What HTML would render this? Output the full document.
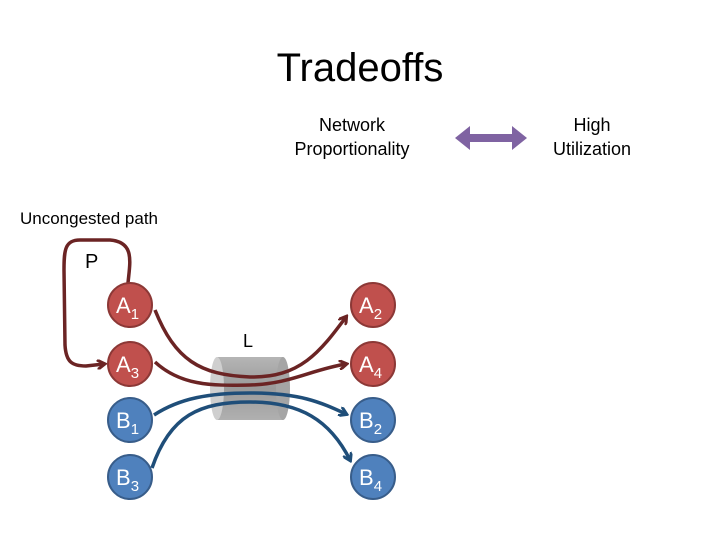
<!DOCTYPE html>
<html><head><meta charset="utf-8"><style>
html,body{margin:0;padding:0;background:#fff;}
svg{display:block}
</style></head><body>
<svg width="720" height="540" viewBox="0 0 720 540" xmlns="http://www.w3.org/2000/svg" font-family="Liberation Sans, sans-serif">
<defs>
<marker id="mr" markerWidth="10" markerHeight="10" refX="7" refY="5" orient="auto" markerUnits="userSpaceOnUse"><path d="M0,0 L8,5 L0,10" fill="none" stroke="#6b2424" stroke-width="3"/></marker>
<marker id="mb" markerWidth="10" markerHeight="10" refX="7" refY="5" orient="auto" markerUnits="userSpaceOnUse"><path d="M0,0 L8,5 L0,10" fill="none" stroke="#1f4e79" stroke-width="3"/></marker>
<linearGradient id="cg" x1="0" y1="0" x2="0" y2="1"><stop offset="0" stop-color="#b5b5b5"/><stop offset="0.5" stop-color="#9a9a9a"/><stop offset="1" stop-color="#b0b0b0"/></linearGradient>
</defs>
<text x="360" y="81" font-size="40" text-anchor="middle" font-family="Liberation Sans Narrow, Liberation Sans, sans-serif">Tradeoffs</text>
<text x="352" y="131" font-size="18" text-anchor="middle">Network</text>
<text x="352" y="155" font-size="18" text-anchor="middle">Proportionality</text>
<text x="592" y="131" font-size="18" text-anchor="middle">High</text>
<text x="592" y="155" font-size="18" text-anchor="middle">Utilization</text>
<path d="M455,138 L470,126 L470,134 L512,134 L512,126 L527,138 L512,150 L512,142 L470,142 L470,150 Z" fill="#7f63a2"/>
<text x="20" y="224" font-size="17">Uncongested path</text>
<text x="85" y="268" font-size="20">P</text>
<!-- cylinder -->
<rect x="217" y="357" width="66" height="63" fill="url(#cg)"/>
<ellipse cx="283" cy="388.5" rx="7" ry="31.5" fill="#a5a5a5"/>
<ellipse cx="217" cy="388.5" rx="7" ry="31.5" fill="#cfcfcf"/>
<text x="243" y="347" font-size="18">L</text>
<!-- paths -->
<g fill="none" stroke-width="3.5">
<path d="M128,283 C130,262 135,242 110,240 L80,240 C65,240 64,250 64,270 L65,345 C66,362 72,366 86,366 L104,364" stroke="#6b2424" marker-end="url(#mr)"/>
<path d="M155,310 C175,360 200,375 250,377 C300,378 320,352 346,317" stroke="#6b2424" marker-end="url(#mr)"/>
<path d="M155,362 C180,385 210,386 250,385 C290,384 310,370 346,364" stroke="#6b2424" marker-end="url(#mr)"/>
<path d="M154,415 C180,398 210,393 250,393 C300,393 320,402 346,414" stroke="#1f4e79" marker-end="url(#mb)"/>
<path d="M152,468 C170,415 200,402 250,402 C300,402 330,420 350,460" stroke="#1f4e79" marker-end="url(#mb)"/>
</g>
<g stroke-width="2" font-size="22" fill="#fff">
<circle cx="130" cy="305" r="22" fill="#c0504d" stroke="#8c3836"/>
<circle cx="130" cy="364" r="22" fill="#c0504d" stroke="#8c3836"/>
<circle cx="130" cy="420" r="22" fill="#4f81bd" stroke="#385d8a"/>
<circle cx="130" cy="477" r="22" fill="#4f81bd" stroke="#385d8a"/>
<circle cx="373" cy="305" r="22" fill="#c0504d" stroke="#8c3836"/>
<circle cx="373" cy="364" r="22" fill="#c0504d" stroke="#8c3836"/>
<circle cx="373" cy="420" r="22" fill="#4f81bd" stroke="#385d8a"/>
<circle cx="373" cy="477" r="22" fill="#4f81bd" stroke="#385d8a"/>
</g>
<g font-size="22" fill="#fff" stroke="none">
<text x="116" y="313">A<tspan font-size="15" dy="6">1</tspan></text>
<text x="116" y="372">A<tspan font-size="15" dy="6">3</tspan></text>
<text x="116" y="428">B<tspan font-size="15" dy="6">1</tspan></text>
<text x="116" y="485">B<tspan font-size="15" dy="6">3</tspan></text>
<text x="359" y="313">A<tspan font-size="15" dy="6">2</tspan></text>
<text x="359" y="372">A<tspan font-size="15" dy="6">4</tspan></text>
<text x="359" y="428">B<tspan font-size="15" dy="6">2</tspan></text>
<text x="359" y="485">B<tspan font-size="15" dy="6">4</tspan></text>
</g>
</svg>
</body></html>
